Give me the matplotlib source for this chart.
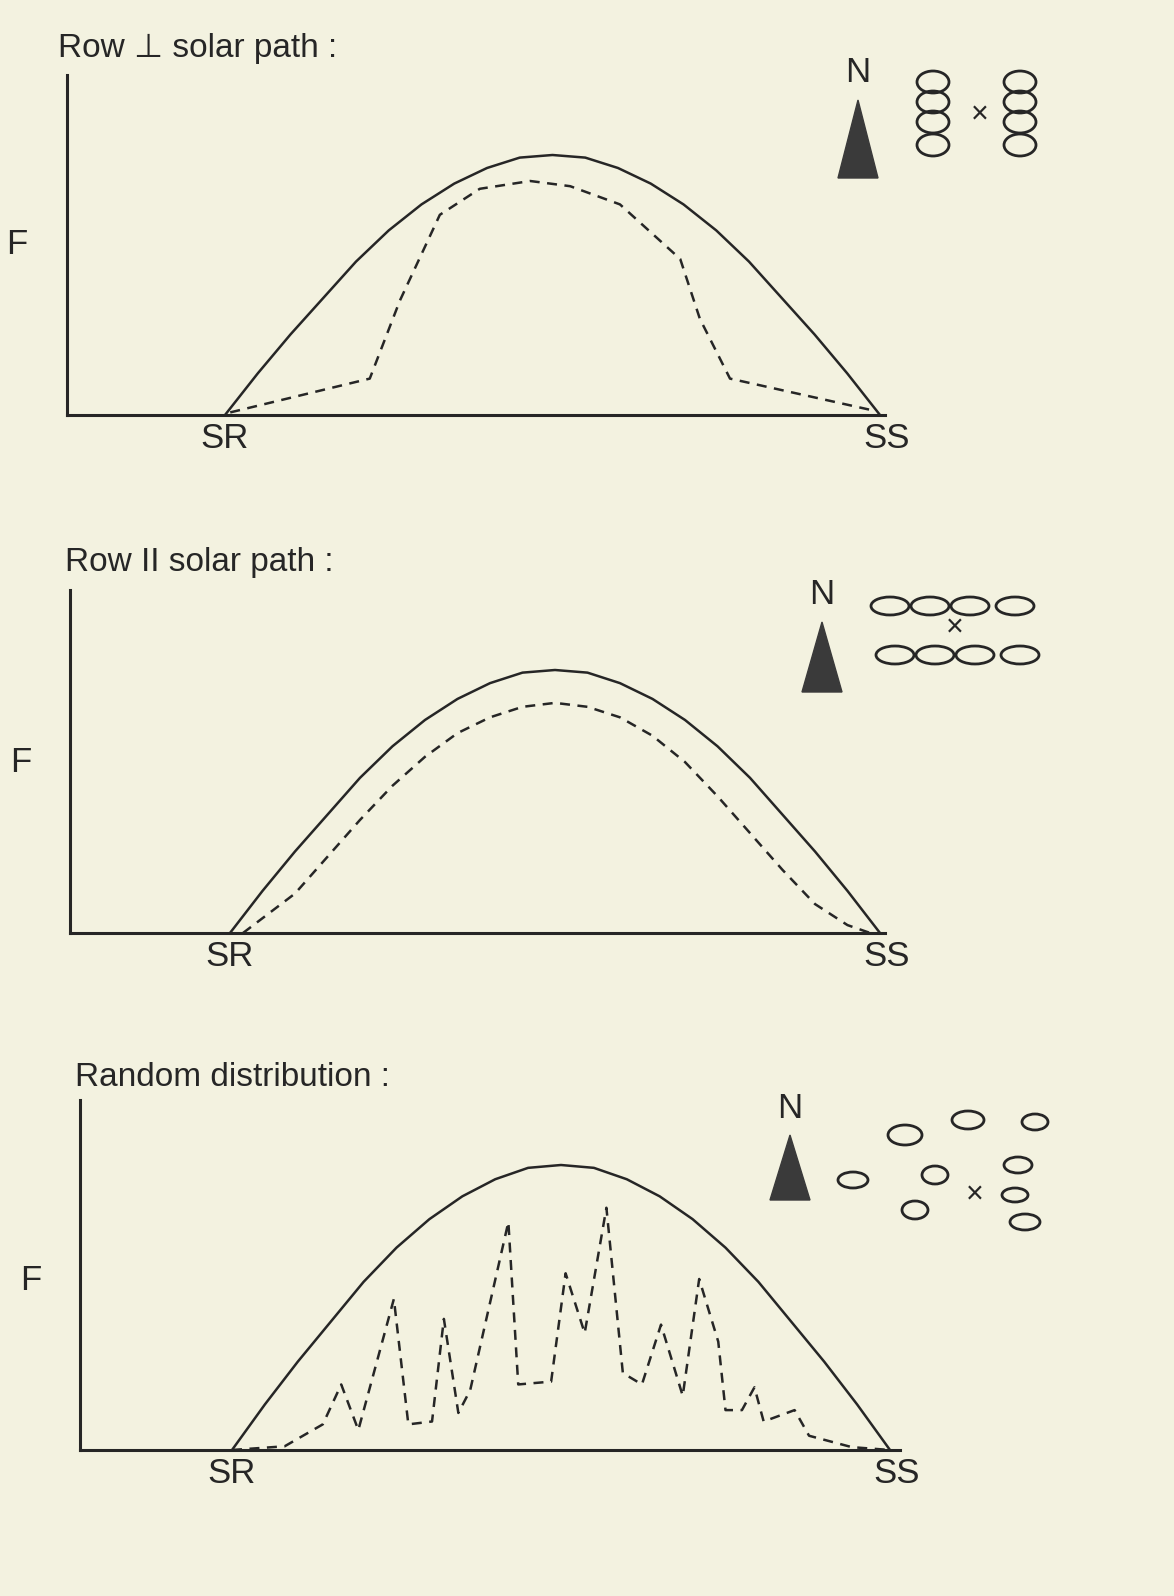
import matplotlib.pyplot as plt
from matplotlib.patches import Polygon, Ellipse

plt.rcParams['font.family'] = ['Liberation Sans', 'DejaVu Sans']
INK = '#262626'
BG = '#f3f2e0'

# solid curve: potential direct beam, SR (0) -> SS (1), peak = 1
sol_u = [0, 0.05, 0.1, 0.15, 0.2, 0.25, 0.3, 0.35, 0.4, 0.45, 0.5,
         0.55, 0.6, 0.65, 0.7, 0.75, 0.8, 0.85, 0.9, 0.95, 1.0]
sol_v = [0, 0.16, 0.31, 0.45, 0.59, 0.71, 0.81, 0.89, 0.95, 0.99, 1.0,
         0.99, 0.95, 0.89, 0.81, 0.71, 0.59, 0.45, 0.31, 0.16, 0]

# row perpendicular to solar path
perp_u = [0.008, 0.221, 0.267, 0.328, 0.389, 0.466, 0.527, 0.603, 0.695, 0.725, 0.771, 0.878, 0.985]
perp_v = [0.01, 0.14, 0.44, 0.77, 0.87, 0.90, 0.88, 0.81, 0.60, 0.37, 0.14, 0.08, 0.02]

# row parallel to solar path
par_u = [0.02, 0.1, 0.15, 0.2, 0.25, 0.3, 0.35, 0.4, 0.45, 0.5, 0.55, 0.6,
         0.65, 0.7, 0.75, 0.8, 0.85, 0.9, 0.95, 0.985]
par_v = [0.0, 0.15, 0.29, 0.43, 0.56, 0.67, 0.76, 0.82, 0.86, 0.875, 0.86, 0.82,
         0.75, 0.65, 0.52, 0.38, 0.24, 0.11, 0.03, 0.0]

# random distribution
rnd_u = [0.0, 0.080, 0.138, 0.166, 0.192, 0.246, 0.268, 0.304, 0.322, 0.344, 0.362, 0.420,
         0.435, 0.485, 0.507, 0.536, 0.569, 0.594, 0.623, 0.652, 0.685, 0.710, 0.739,
         0.750, 0.775, 0.794, 0.808, 0.855, 0.877, 0.942, 1.0]
rnd_v = [0.0, 0.013, 0.09, 0.23, 0.07, 0.53, 0.09, 0.10, 0.46, 0.13, 0.21, 0.80,
         0.23, 0.24, 0.62, 0.41, 0.85, 0.27, 0.23, 0.44, 0.19, 0.60, 0.38,
         0.14, 0.14, 0.22, 0.10, 0.14, 0.05, 0.01, 0.0]

W, H = 1174, 1596
fig = plt.figure(figsize=(W / 100, H / 100), dpi=100, facecolor=BG)

panels = [
    # left, right, top, bottom px, SR px, SS px, peak px, title, title pos, F pos, dashed
    (67, 885, 75, 415, 225, 880, 155, 'Row \u22a5 solar path :', (58, 48), (6, 245), perp_u, perp_v),
    (70, 885, 590, 933, 230, 880, 670, 'Row II solar path :', (65, 562), (10, 762), par_u, par_v),
    (80, 900, 1100, 1450, 232, 890, 1165, 'Random distribution :', (75, 1077), (20, 1280), rnd_u, rnd_v),
]

for l, r, t, b, sr, ss, pk, title, tpos, fpos, du, dv in panels:
    ax = fig.add_axes([l / W, 1 - b / H, (r - l) / W, (b - t) / H])
    ax.set_facecolor('none')
    sc = ss - sr
    ax.set_xlim(-(sr - l) / sc, (r - sr) / sc)
    ax.set_ylim(0, (b - t) / (b - pk))
    ax.plot(sol_u, sol_v, color=INK, lw=1.8, solid_capstyle='round')
    ax.plot(du, dv, color=INK, lw=1.8, ls=(0, (4, 3)))
    for s in ['top', 'right']:
        ax.spines[s].set_visible(False)
    for s in ['left', 'bottom']:
        ax.spines[s].set_color(INK)
        ax.spines[s].set_linewidth(2.2)
    ax.set_xticks([])
    ax.set_yticks([])
    ax.text(0, -0.02, 'SR', transform=ax.get_xaxis_transform(), ha='center', va='top',
            fontsize=25, color=INK)
    ax.text(1.01, -0.02, 'SS', transform=ax.get_xaxis_transform(), ha='center', va='top',
            fontsize=25, color=INK)
    fig.text(tpos[0] / W, 1 - tpos[1] / H, title, fontsize=24, color=INK, va='center')
    fig.text(fpos[0] / W, 1 - fpos[1] / H, 'F', fontsize=25, color=INK, va='center')

# overlay for north arrows and crown sketches (figure pixels)
ov = fig.add_axes([0, 0, 1, 1])
ov.set_xlim(0, W)
ov.set_ylim(H, 0)
ov.axis('off')

arrows = [(858, 100, 178, 72), (822, 622, 692, 595), (790, 1135, 1200, 1108)]
for x, ytop, ybot, yn in arrows:
    ov.add_patch(Polygon([(x - 20, ybot), (x + 20, ybot), (x, ytop)], closed=True,
                         color='#3a3a3a'))
    ov.text(x, yn, 'N', ha='center', va='center', fontsize=25, color=INK)

crowns = []
for y in [82, 102, 122, 145]:
    crowns += [(933, y, 32, 22), (1020, y, 32, 22)]
for x in [890, 930, 970, 1015]:
    crowns += [(x, 606, 38, 18), (x + 5, 655, 38, 18)]
crowns += [(905, 1135, 34, 20), (968, 1120, 32, 18), (1035, 1122, 26, 16),
           (853, 1180, 30, 16), (935, 1175, 26, 18), (1018, 1165, 28, 16),
           (1015, 1195, 26, 14), (915, 1210, 26, 18), (1025, 1222, 30, 16)]
for x, y, w, h in crowns:
    ov.add_patch(Ellipse((x, y), w, h, fill=False, ec=INK, lw=2))
for x, y in [(980, 115), (955, 628), (975, 1195)]:
    ov.text(x, y, '\u00d7', ha='center', va='center', fontsize=22, color=INK)

fig.savefig('out.png', dpi=100, facecolor=BG)
